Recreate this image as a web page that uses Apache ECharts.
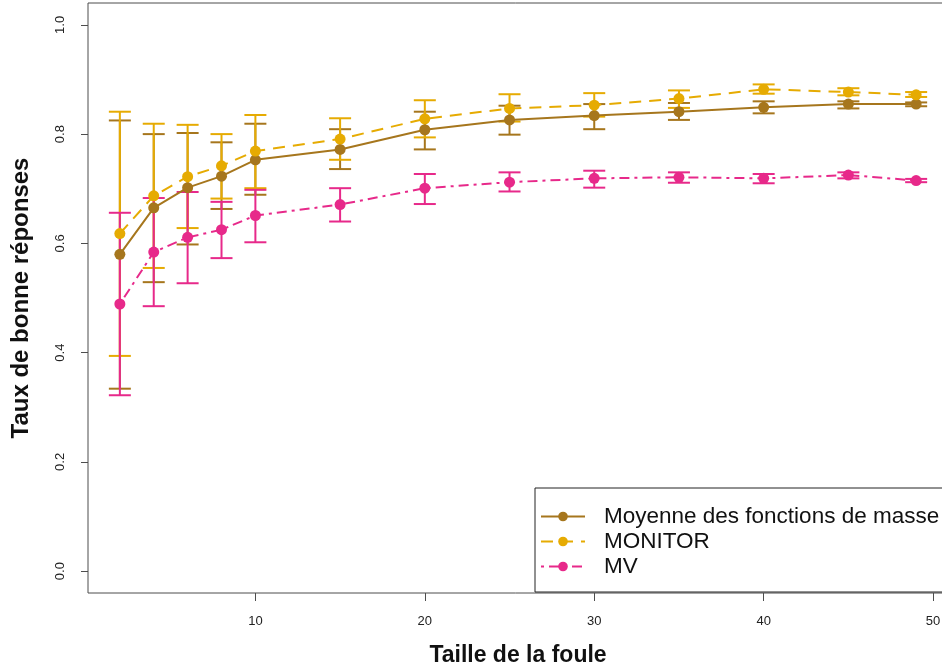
<!DOCTYPE html>
<html>
<head>
<meta charset="utf-8">
<script src="https://cdn.jsdelivr.net/npm/echarts@6/dist/echarts.min.js"></script>
<style>
  html, body { margin: 0; padding: 0; background: #fff; }
  #chart { width: 942px; height: 667px; }
</style>
</head>
<body>
<div id="chart"></div>
<script>
// taille de la foule
const crowdSizes = [2, 4, 6, 8, 10, 15, 20, 25, 30, 35, 40, 45, 49]

// Moyenne des fonctions de masse
const meanMass = [0.580, 0.665, 0.702, 0.723, 0.753, 0.772, 0.808, 0.826, 0.834, 0.841, 0.849, 0.855, 0.855]
const meanMassLow = [0.334, 0.529, 0.598, 0.663, 0.689, 0.736, 0.772, 0.799, 0.809, 0.826, 0.838, 0.847, 0.851]
const meanMassHigh = [0.825, 0.800, 0.802, 0.785, 0.819, 0.809, 0.841, 0.852, 0.855, 0.857, 0.860, 0.860, 0.858]

// MONITOR
const monitor = [0.618, 0.687, 0.722, 0.742, 0.769, 0.791, 0.828, 0.847, 0.853, 0.865, 0.882, 0.877, 0.872]
const monitorLow = [0.394, 0.555, 0.628, 0.682, 0.701, 0.753, 0.794, 0.823, 0.832, 0.848, 0.874, 0.871, 0.868]
const monitorHigh = [0.841, 0.819, 0.817, 0.800, 0.835, 0.829, 0.862, 0.873, 0.875, 0.880, 0.891, 0.884, 0.877]

// MV
const mv = [0.489, 0.584, 0.611, 0.625, 0.651, 0.671, 0.701, 0.712, 0.719, 0.721, 0.719, 0.725, 0.715]
const mvLow = [0.322, 0.485, 0.527, 0.573, 0.602, 0.640, 0.672, 0.695, 0.702, 0.711, 0.710, 0.719, 0.712]
const mvHigh = [0.656, 0.683, 0.694, 0.676, 0.698, 0.701, 0.727, 0.730, 0.733, 0.730, 0.727, 0.730, 0.718]

const xTicks = [10, 20, 30, 40, 50]
const yTicks = [0, 0.2, 0.4, 0.6, 0.8, 1.0]

const FONT = 'Liberation Sans'
const chart = echarts.init(document.getElementById('chart'))

// barres d'erreur (trait vertical + deux chapeaux)
const errorBars = (name, color, low, high) => ({
  name: name + ' err',
  type: 'custom',
  data: crowdSizes.map((x, i) => [x, low[i], high[i]]),
  encode: { x: 0, y: [1, 2] },
  renderItem: (params, api) => {
    const top = api.coord([api.value(0), api.value(2)])
    const bot = api.coord([api.value(0), api.value(1)])
    const w = 11
    const style = { stroke: color, lineWidth: 2 }
    return {
      type: 'group',
      children: [
        { type: 'line', shape: { x1: top[0], y1: top[1], x2: bot[0], y2: bot[1] }, style },
        { type: 'line', shape: { x1: top[0] - w, y1: top[1], x2: top[0] + w, y2: top[1] }, style },
        { type: 'line', shape: { x1: bot[0] - w, y1: bot[1], x2: bot[0] + w, y2: bot[1] }, style }
      ]
    }
  }
})

const lineSeries = (name, color, values, dash) => ({
  name,
  type: 'line',
  data: crowdSizes.map((x, i) => [x, values[i]]),
  symbol: 'circle',
  symbolSize: 11,
  showSymbol: true,
  itemStyle: { color },
  lineStyle: { color, width: 2, type: dash }
})

const option = {
  animation: false,
  grid: {
    left: 88,
    top: 3,
    width: 860,
    height: 590,
    outerBoundsMode: 'none',
    show: true,
    borderColor: '#4d4d4d',
    borderWidth: 1,
    backgroundColor: 'transparent'
  },
  legend: {
    data: ['Moyenne des fonctions de masse', 'MONITOR', 'MV'],
    orient: 'vertical',
    left: 535,
    top: 488,
    padding: [17, 20, 14, 5],
    itemGap: 2,
    itemWidth: 44,
    itemHeight: 12,
    borderColor: '#222',
    borderWidth: 1,
    backgroundColor: '#fff',
    textStyle: {
      fontFamily: FONT,
      fontSize: 22.5,
      lineHeight: 22,
      color: '#111',
      padding: [0, 0, 0, 14]
    }
  },
  xAxis: {
    type: 'value',
    min: 0.12,
    max: 50.88,
    name: 'Taille de la foule',
    nameLocation: 'middle',
    nameGap: 51,
    nameTextStyle: { fontFamily: FONT, fontSize: 23, fontWeight: 'bold', color: '#111' },
    axisLine: { show: false, onZero: false },
    axisTick: { show: true, length: 8, customValues: xTicks, lineStyle: { color: '#4d4d4d' } },
    axisLabel: { customValues: xTicks, margin: 22, fontFamily: FONT, fontSize: 13, color: '#222' },
    splitLine: { show: false }
  },
  yAxis: {
    type: 'value',
    min: -0.04,
    max: 1.04,
    name: 'Taux de bonne réponses',
    nameLocation: 'middle',
    nameGap: 55,
    nameRotate: 90,
    nameTextStyle: { fontFamily: FONT, fontSize: 24, fontWeight: 'bold', color: '#111' },
    axisLine: { show: false, onZero: false },
    axisTick: { show: true, length: 7, customValues: yTicks, lineStyle: { color: '#4d4d4d' } },
    axisLabel: {
      customValues: yTicks,
      rotate: 90,
      margin: 21,
      fontFamily: FONT,
      fontSize: 13,
      color: '#222',
      formatter: v => v.toFixed(1)
    },
    splitLine: { show: false }
  },
  series: [
    errorBars('Moyenne des fonctions de masse', '#A6761D', meanMassLow, meanMassHigh),
    lineSeries('Moyenne des fonctions de masse', '#A6761D', meanMass, 'solid'),
    errorBars('MONITOR', '#E6AB02', monitorLow, monitorHigh),
    lineSeries('MONITOR', '#E6AB02', monitor, [12, 8]),
    errorBars('MV', '#E7298A', mvLow, mvHigh),
    lineSeries('MV', '#E7298A', mv, [3, 5, 10, 5])
  ]
}

chart.setOption(option)
</script>
</body>
</html>
